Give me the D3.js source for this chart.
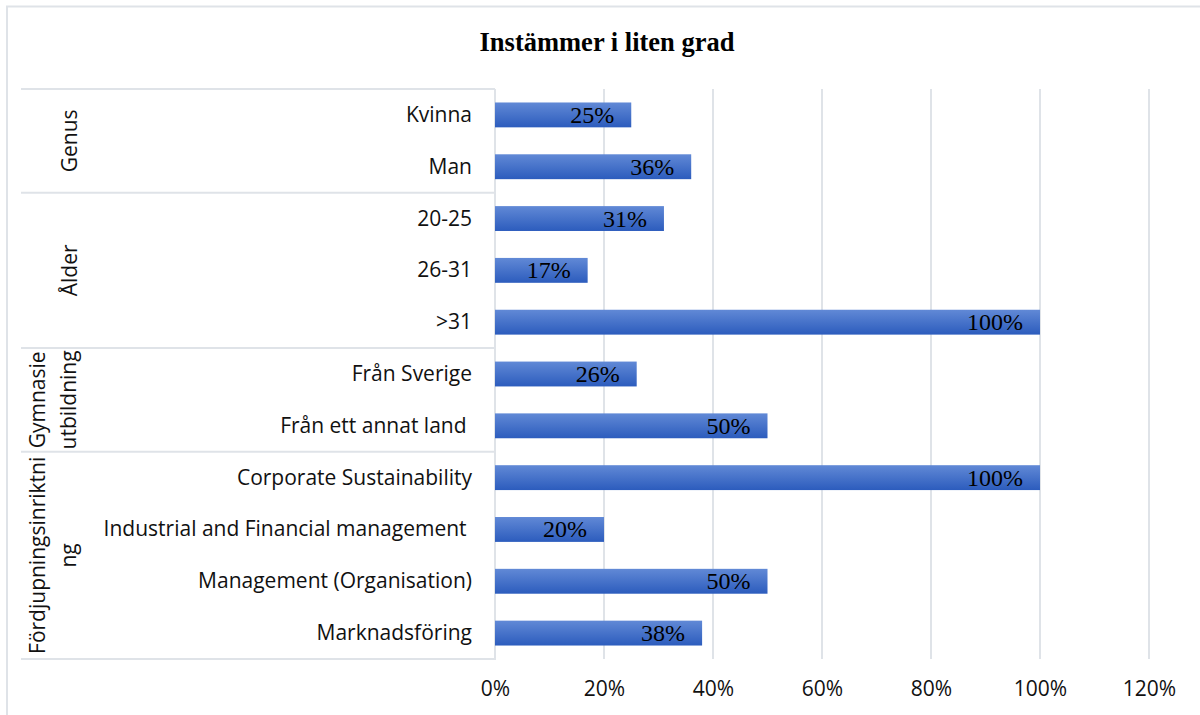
<!DOCTYPE html>
<html><head><meta charset="utf-8">
<script src="https://cdn.jsdelivr.net/npm/d3@7"></script>
<style>body{margin:0;background:#fff}svg{display:block}</style>
</head><body>
<svg id="c" width="1200" height="715"></svg>
<script>
const title = "Instämmer i liten grad";
const categories = ["Kvinna","Man","20-25","26-31",">31","Från Sverige","Från ett annat land ","Corporate Sustainability","Industrial and Financial management ","Management (Organisation)","Marknadsföring"];
const values = [0.25,0.36,0.31,0.17,1.00,0.26,0.50,1.00,0.20,0.50,0.38];
const groupNames = [["Genus"],["Ålder"],["Gymnasie","utbildning"],["Fördjupningsinriktni","ng"]];
const groupSizes = [2,3,2,4];
const tickValues = [0,0.2,0.4,0.6,0.8,1.0,1.2];

const svg = d3.select("#c");
const L = 495, R = 1149, T = 89, B = 659, labelLeft = 21;
const x = d3.scaleLinear().domain([0,1.2]).range([L,R]);
const y = d3.scaleBand().domain(d3.range(categories.length)).range([T,B]).paddingInner(0.52).paddingOuter(0.26);
const grid = "#dfe3e8";
const sans = "'Open Sans', sans-serif";
const serif = "'Liberation Serif', 'Times New Roman', serif";

const defs = svg.append("defs");
const g = defs.append("linearGradient").attr("id","bg").attr("x1",0).attr("y1",0).attr("x2",0).attr("y2",1);
g.append("stop").attr("offset","0%").attr("stop-color","#6189d6");
g.append("stop").attr("offset","100%").attr("stop-color","#2c5cbd");

// outer border
svg.append("path").attr("d","M7,716 V6.5 H1201").attr("fill","none").attr("stroke",grid).attr("stroke-width",2);

// title
svg.append("text").attr("x",607).attr("y",51).attr("text-anchor","middle")
  .attr("font-family",serif).attr("font-weight","bold")
  .attr("font-size",26.5).attr("fill","#000").text(title);

// gridlines
svg.append("g").selectAll("line").data(tickValues.slice(1)).join("line")
  .attr("x1",d=>x(d)).attr("x2",d=>x(d)).attr("y1",T).attr("y2",B)
  .attr("stroke",grid).attr("stroke-width",2);

// label region boxes
const bounds = [0];
groupSizes.forEach((s,i)=>bounds.push(bounds[i]+s));
const step = (B-T)/categories.length;
svg.append("g").selectAll("line").data(bounds).join("line")
  .attr("x1",labelLeft).attr("x2",L).attr("y1",d=>T+d*step).attr("y2",d=>T+d*step)
  .attr("stroke",grid).attr("stroke-width",2);
svg.append("line").attr("x1",L).attr("x2",L).attr("y1",T).attr("y2",B+1).attr("stroke",grid).attr("stroke-width",2);

// bars
svg.append("g").selectAll("rect").data(values).join("rect")
  .attr("x",x(0)).attr("y",(d,i)=>y(i)).attr("width",d=>x(d)-x(0)).attr("height",y.bandwidth())
  .attr("fill","url(#bg)");

// data labels
svg.append("g").selectAll("text").data(values).join("text")
  .attr("x",d=>x(d)-17).attr("y",(d,i)=>y(i)+y.bandwidth()/2+8)
  .attr("text-anchor","end").attr("font-family",serif)
  .attr("font-size",24).attr("fill","#000").text(d=>d3.format(".0%")(d));

// category labels
svg.append("g").selectAll("text").data(categories).join("text")
  .attr("x",472).attr("y",(d,i)=>y(i)+y.bandwidth()/2+7)
  .attr("text-anchor","end").attr("font-family",sans).attr("font-size",21)
  .attr("fill","#111").style("white-space","pre").text(d=>d);

// group labels
groupNames.forEach((lines,i)=>{
  const cy = T + (bounds[i]+bounds[i+1])/2*step;
  const xs = lines.length===1 ? [77] : [45,76];
  lines.forEach((t,j)=>{
    svg.append("text").attr("transform",`translate(${xs[j]},${cy}) rotate(-90)`)
      .attr("text-anchor","middle").attr("font-family",sans).attr("font-size",21)
      .attr("fill","#111").text(t);
  });
});

// x axis tick labels
const ax = svg.append("g").attr("transform",`translate(0,${B})`)
  .call(d3.axisBottom(x).tickValues(tickValues).tickFormat(d3.format(".0%")).tickSize(0).tickPadding(22));
ax.select(".domain").remove();
ax.selectAll("text").attr("font-family",sans).attr("font-size",21).attr("fill","#111");
</script>
</body></html>
